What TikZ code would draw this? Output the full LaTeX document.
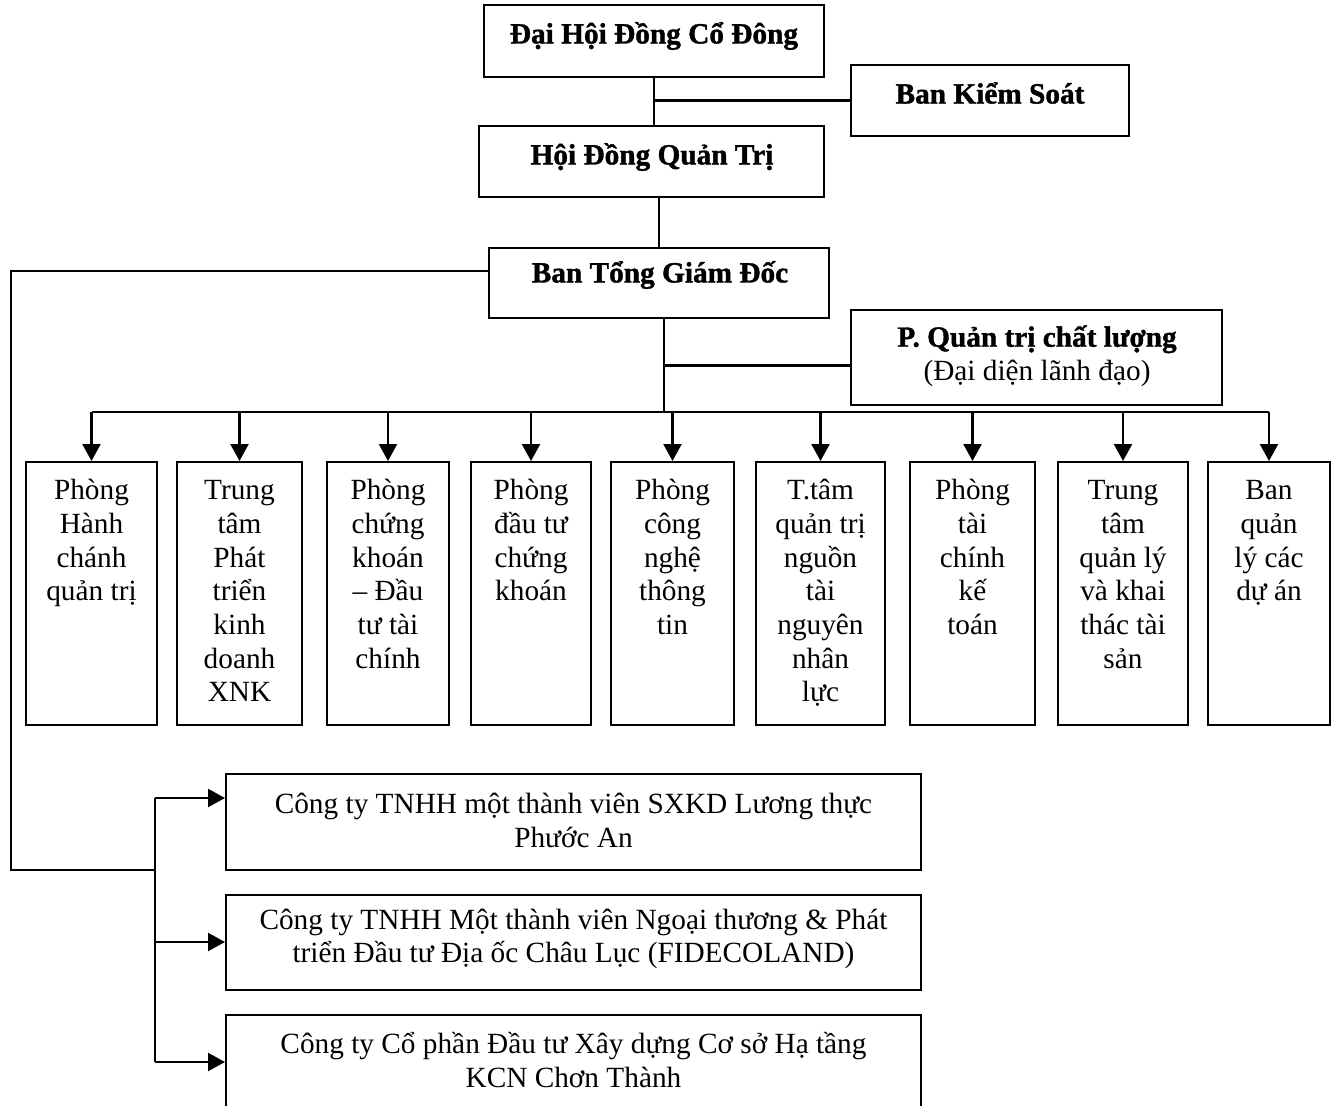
\documentclass[tikz,border=0pt]{standalone}
\usepackage{fontspec}
\setmainfont{Liberation Serif}[BoldFeatures={FakeBold=1.3}]
\usetikzlibrary{arrows.meta,calc}
\begin{document}
\begin{tikzpicture}[x=1pt,y=-1pt,
  box/.style={draw, line width=2pt, inner sep=0pt},
  txt/.style={align=center, font=\fontsize{29.3}{33.7}\selectfont, inner sep=0pt},
  btxt/.style={align=center, font=\fontsize{29.3}{33.7}\selectfont\bfseries, inner sep=0pt},
  conn/.style={line width=2.2pt},
  arr/.style={conn, -{Triangle[length=17pt,width=18pt]}}]
\useasboundingbox (0,0) rectangle (1332,1105);
% top boxes
\node[box, minimum width=340pt, minimum height=72pt] (dh) at (654,41) {};
\node[btxt] (dht) at (654,36) {Đại Hội Đồng Cổ Đông};
\node[box, minimum width=278pt, minimum height=71pt] (bks) at (990,100.5) {};
\node[btxt] (bkst) at (990,93) {Ban Kiểm Soát};
\node[box, minimum width=345pt, minimum height=71pt] (hd) at (651.5,161.5) {};
\node[btxt] (hdt) at (652,157) {Hội Đồng Quản Trị};
\node[box, minimum width=340pt, minimum height=70pt] (bt) at (659,283) {};
\node[btxt] (btt) at (660,275) {Ban Tổng Giám Đốc};
\node[box, minimum width=371pt, minimum height=95pt] (qt) at (1036.5,357.5) {};
\node[txt] (qtt) at (1037,356) {\textbf{P. Quản trị chất lượng}\\(Đại diện lãnh đạo)};
% department boxes
\foreach \n/\cx/\w in {b1/91.5/131, b2/239.5/125, b3/388/122, b4/531/120, b5/672.5/123, b6/820.5/129, b7/972.5/125, b8/1123/130, b9/1269/122}
  \node[box, minimum width=\w pt, minimum height=263pt] (\n) at (\cx,593.5) {};
\node[txt, anchor=north] (t1) at ($(b1.north)+(0,15)$) {\strut Phòng\\Hành\\chánh\\quản trị};
\node[txt, anchor=north] (t2) at ($(b2.north)+(0,15)$) {\strut Trung\\tâm\\Phát\\triển\\kinh\\doanh\\XNK};
\node[txt, anchor=north] (t3) at ($(b3.north)+(0,15)$) {\strut Phòng\\chứng\\khoán\\– Đầu\\tư tài\\chính};
\node[txt, anchor=north] (t4) at ($(b4.north)+(0,15)$) {\strut Phòng\\đầu tư\\chứng\\khoán};
\node[txt, anchor=north] (t5) at ($(b5.north)+(0,15)$) {\strut Phòng\\công\\nghệ\\thông\\tin};
\node[txt, anchor=north] (t6) at ($(b6.north)+(0,15)$) {\strut T.tâm\\quản trị\\nguồn\\tài\\nguyên\\nhân\\lực};
\node[txt, anchor=north] (t7) at ($(b7.north)+(0,15)$) {\strut Phòng\\tài\\chính\\kế\\toán};
\node[txt, anchor=north] (t8) at ($(b8.north)+(0,15)$) {\strut Trung\\tâm\\quản lý\\và khai\\thác tài\\sản};
\node[txt, anchor=north] (t9) at ($(b9.north)+(0,15)$) {\strut Ban\\quản\\lý các\\dự án};
% company boxes
\node[box, minimum width=695pt, minimum height=96pt] (c1) at (573.5,822) {};
\node[txt] (c1t) at (573.5,820.5) {Công ty TNHH một thành viên SXKD Lương thực\\Phước An};
\node[box, minimum width=695pt, minimum height=95pt] (c2) at (573.5,942.5) {};
\node[txt] (c2t) at (573.5,939) {Công ty TNHH Một thành viên Ngoại thương \& Phát\\triển Đầu tư Địa ốc Châu Lục (FIDECOLAND)};
\node[box, minimum width=695pt, minimum height=95pt] (c3) at (573.5,1062.5) {};
\node[txt] (c3t) at (573.5,1060) {Công ty Cổ phần Đầu tư Xây dựng Cơ sở Hạ tầng\\KCN Chơn Thành};
% connectors top
\draw[conn] (dh.south) -- (dh.south |- hd.north);
\draw[conn] (bks.west) -- (bks.west -| dh.south);
\draw[conn] (bt.north) -- (bt.north |- hd.south);
% trunk and bus
\coordinate (tr) at ($(bt.south)+(5,0)$);
\coordinate (busL) at ($(b1.north)+(0,-49)$);
\coordinate (busR) at ($(b9.north)+(0,-49)$);
\draw[conn] (tr) -- (tr |- busL);
\draw[conn] (busL) -- (busR);
\coordinate (qtin) at ($(qt.west)+(0,8)$);
\draw[conn] (tr |- qtin) -- (qtin);
\foreach \b in {b1,b2,b3,b4,b5,b6,b7,b8,b9}
  \draw[arr] ($(\b.north)+(0,-49)$) -- (\b.north);
% left subsidiaries
\coordinate (lft) at ($(bt.west)+(0,-12)$);
\coordinate (corner) at (11,870);
\coordinate (sp) at (155,870);
\coordinate (a1) at ($(c1.west)+(0,-24)$);
\coordinate (a2) at ($(c2.west)+(0,-0.5)$);
\coordinate (a3) at ($(c3.west)+(0,-0.5)$);
\draw[conn] (lft) -| (corner) -- (sp);
\draw[conn] (a1 -| sp) -- (a3 -| sp);
\draw[arr] (a1 -| sp) -- (a1);
\draw[arr] (a2 -| sp) -- (a2);
\draw[arr] (a3 -| sp) -- (a3);
\end{tikzpicture}
\end{document}
